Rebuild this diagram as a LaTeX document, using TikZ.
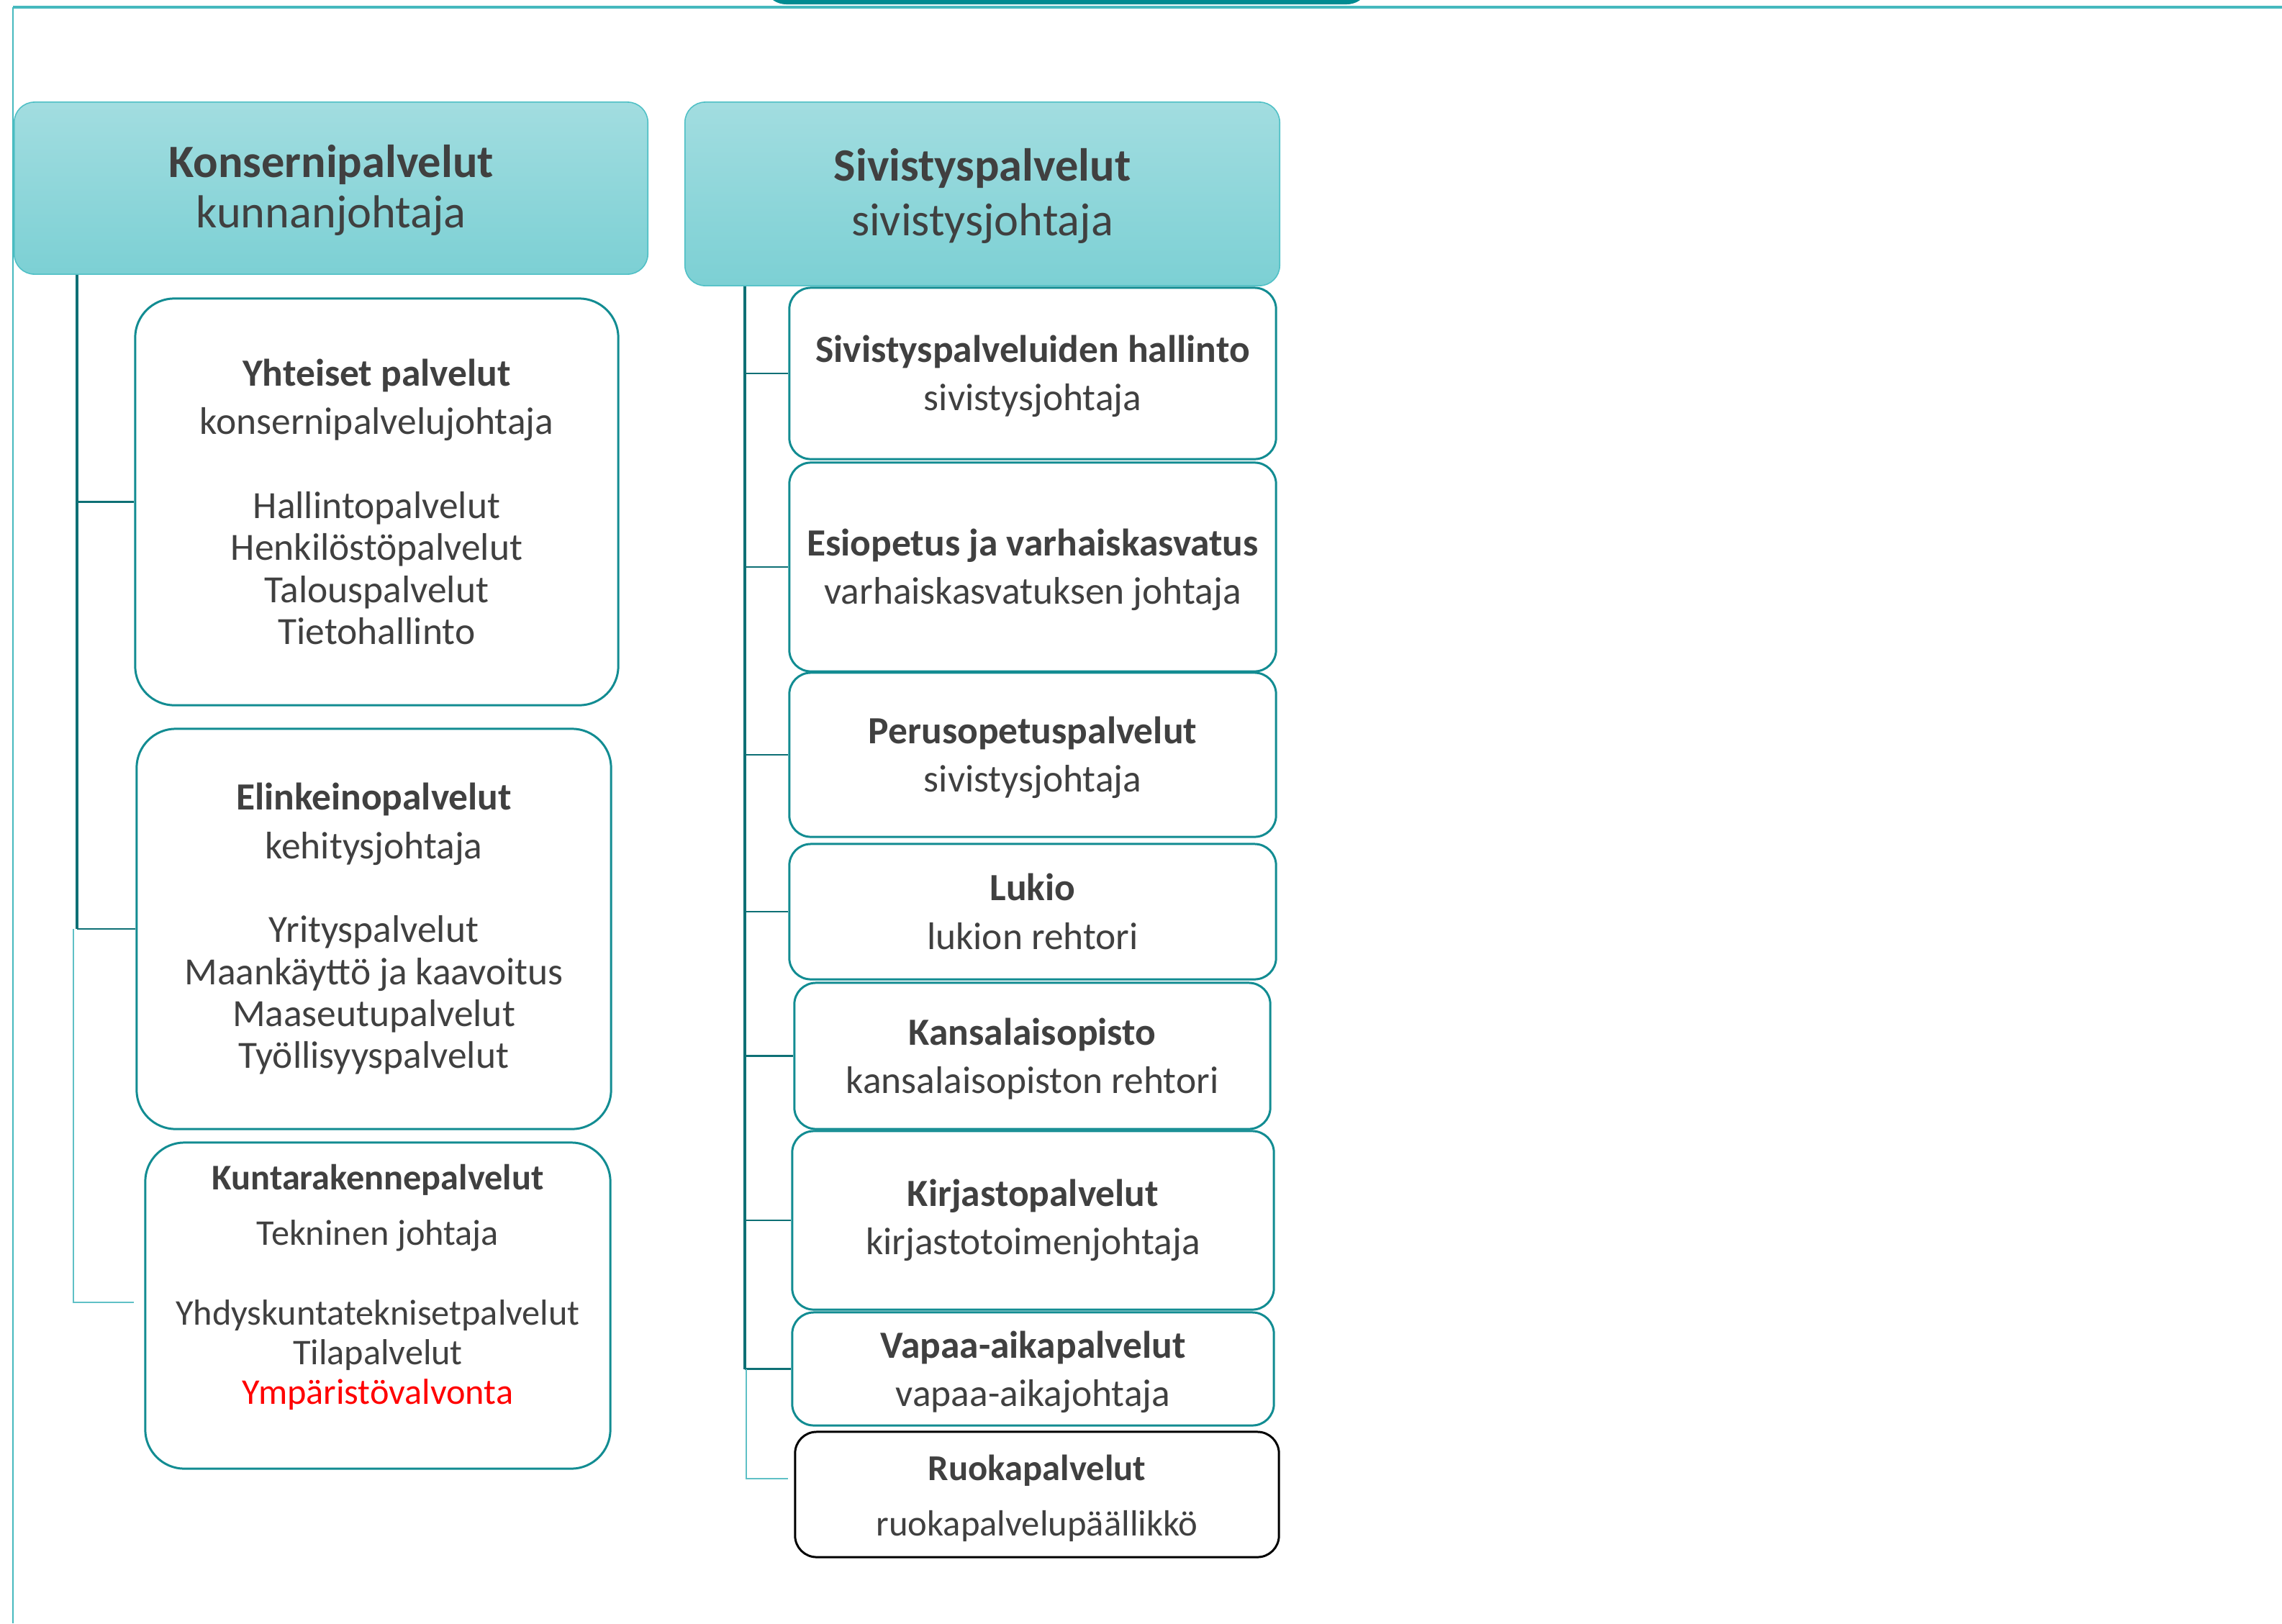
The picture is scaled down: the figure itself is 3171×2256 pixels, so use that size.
\documentclass[tikz,border=0pt]{standalone}
\usepackage{fontspec}
\setmainfont{Carlito}
\usetikzlibrary{calc}
\definecolor{txt}{RGB}{64,64,64}
\definecolor{boxline}{RGB}{18,140,146}
\definecolor{conndark}{RGB}{14,112,117}
\definecolor{connlight}{RGB}{95,192,198}
\definecolor{hdrtop}{RGB}{162,221,224}
\definecolor{hdrbot}{RGB}{124,208,212}
\definecolor{hdrline}{RGB}{80,192,198}
\definecolor{topbar}{RGB}{0,139,145}
\definecolor{framec}{RGB}{70,185,190}
\definecolor{redtxt}{RGB}{255,0,0}
\newcommand{\firstline}{\rule{0pt}{12.9pt}}
\newcommand{\firsthdr}{\rule{0pt}{14.5pt}}
\begin{document}
\begin{tikzpicture}[x=0.01cm,y=-0.01cm,
  hdr/.style={draw=hdrline, line width=0.45pt, rounded corners=8pt, top color=hdrtop, bottom color=hdrbot, inner sep=0pt, align=center, text=txt, font=\fontsize{18.3}{20}\selectfont},
  child/.style={draw=boxline, line width=0.85pt, fill=white, rounded corners=8.5pt, inner sep=0pt, align=center, text=txt, font=\fontsize{15.2}{16.5}\selectfont},
  bigchild/.style={child, rounded corners=15.5pt, font=\fontsize{15.2}{16.6}\selectfont},
  spine/.style={draw=conndark, line width=1.1pt},
  branch/.style={draw=conndark, line width=0.6pt},
  faint/.style={draw=connlight, line width=0.6pt},
  framel/.style={draw=framec, line width=0.6pt},
]
\useasboundingbox (0,0) rectangle (3171,2256);
\clip (0,0) rectangle (3171,2256);
% background frame
\fill[topbar, rounded corners=9pt] (1061,-60) rectangle (1903,6);
\draw[framel, line width=1pt] (18,10) -- (3171,10);
\draw[framel] (18,10) -- (18,2256);

% headers
\node[hdr, minimum width=8.8cm, minimum height=2.39cm] (h1) at (460,261.5)
  {\firsthdr\textbf{Konsernipalvelut}\\kunnanjohtaja};
\node[hdr, minimum width=8.26cm, minimum height=2.55cm] (h2) at (1365,269.5)
  {\firsthdr\textbf{Sivistyspalvelut}\\[1.8pt]sivistysjohtaja};

% left column
\node[bigchild, minimum width=6.71cm, minimum height=5.65cm] (yht) at (523.5,697.5)
  {\textbf{Yhteiset palvelut}\\[2.5pt]konsernipalvelujohtaja\\[16.6pt]Hallintopalvelut\\Henkilöstöpalvelut\\Talouspalvelut\\Tietohallinto};
\node[bigchild, minimum width=6.59cm, minimum height=5.56cm] (elin) at (519.5,1291)
  {\textbf{Elinkeinopalvelut}\\[2.5pt]kehitysjohtaja\\[16.6pt]Yrityspalvelut\\Maankäyttö ja kaavoitus\\Maaseutupalvelut\\Työllisyyspalvelut};
\node[bigchild, minimum width=6.46cm, minimum height=4.53cm, font=\fontsize{14.3}{15.7}\selectfont] (kunta) at (525,1814.5)
  {\textbf{Kuntarakennepalvelut}\\[6.2pt]Tekninen johtaja\\[15.9pt]Yhdyskuntateknisetpalvelut\\Tilapalvelut\\\textcolor{redtxt}{Ympäristövalvonta}\rule[-16.9pt]{0pt}{16.9pt}};

% right column
\node[child, minimum width=6.76cm, minimum height=2.38cm] (r1) at (1435,519)
  {\firstline\textbf{Sivistyspalveluiden hallinto}\\[2.6pt]sivistysjohtaja};
\node[child, minimum width=6.76cm, minimum height=2.90cm] (r2) at (1435,788)
  {\firstline\textbf{Esiopetus ja varhaiskasvatus}\\[2.6pt]varhaiskasvatuksen johtaja};
\node[child, minimum width=6.76cm, minimum height=2.28cm] (r3) at (1435,1049)
  {\firstline\textbf{Perusopetuspalvelut}\\[2.6pt]sivistysjohtaja};
\node[child, minimum width=6.76cm, minimum height=1.88cm] (r4) at (1435,1267)
  {\textbf{Lukio}\\[2.6pt]lukion rehtori};
\node[child, minimum width=6.61cm, minimum height=2.03cm] (r5) at (1434.5,1467.5)
  {\firstline\textbf{Kansalaisopisto}\\[2.6pt]kansalaisopiston rehtori};
\node[child, minimum width=6.69cm, minimum height=2.48cm] (r6) at (1435.5,1696)
  {\textbf{Kirjastopalvelut}\\[2.6pt]kirjastotoimenjohtaja};
\node[child, minimum width=6.69cm, minimum height=1.57cm] (r7) at (1435.5,1902.5)
  {\firstline\textbf{Vapaa-aikapalvelut}\\[2.6pt]vapaa-aikajohtaja};
\node[child, draw=black, minimum width=6.72cm, minimum height=1.74cm, font=\fontsize{14.4}{15.7}\selectfont] (r8) at (1441,2077)
  {\firstline\textbf{Ruokapalvelut}\\[6.2pt]ruokapalvelupäällikkö};

% connector helpers
\coordinate (spL) at (107,0);
\coordinate (fL) at (102,0);
\coordinate (kend) at (186,1810);
\coordinate (spR) at (1035,0);
\coordinate (fR) at (1037,0);
\coordinate (rend) at (1095,2055);

% left connectors
\draw[spine] (h1.south -| spL) -- (spL |- elin.west);
\draw[branch] (spL |- yht.west) -- (yht.west);
\draw[branch] (spL |- elin.west) -- (elin.west);
\draw[faint] (fL |- elin.west) -- (fL |- kend) -- (kend);

% right connectors
\draw[spine] (h2.south -| spR) -- (spR |- r7.west);
\foreach \n in {r1,r2,r3,r4,r5,r6,r7}
  \draw[branch] (spR |- \n.west) -- (\n.west);
\draw[faint] (fR |- r7.west) -- (fR |- rend) -- (rend);
\end{tikzpicture}
\end{document}
